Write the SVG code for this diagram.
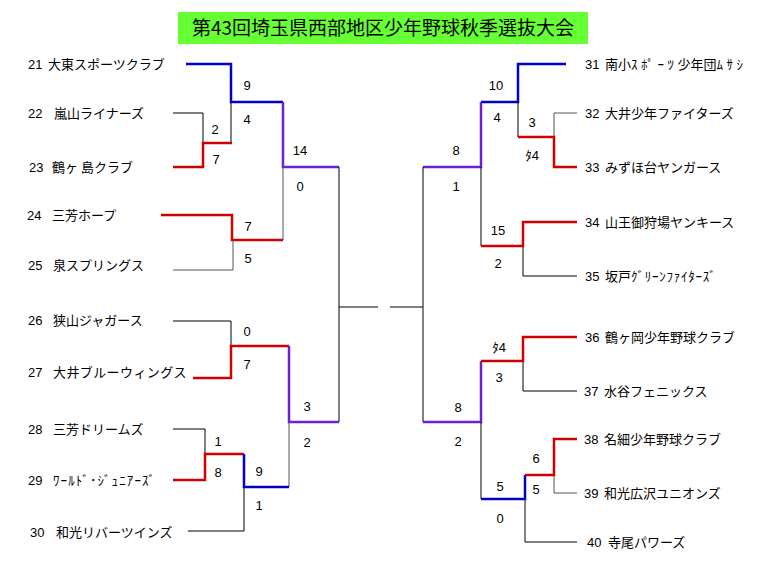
<svg xmlns="http://www.w3.org/2000/svg" width="768" height="576" viewBox="0 0 768 576">
<style>
.bg{fill:#ffffff}
.tl{font-family:"Noto Sans CJK JP","Noto Sans",sans-serif;font-size:19px;fill:#000;text-anchor:middle}
.num{font-family:"Liberation Sans",Arial,sans-serif;font-size:13px;fill:#000}
.nm{font-family:"Noto Sans CJK JP","Noto Sans",sans-serif;font-size:13px;fill:#000}
.sc{font-family:"Liberation Sans","Noto Sans CJK JP",sans-serif;font-size:13px;fill:#000;text-anchor:middle}
.k{fill:none;stroke:#000;stroke-width:1}
.g{fill:none;stroke:#555;stroke-width:1}
.b{fill:none;stroke:#0000c8;stroke-width:2.5}
.r{fill:none;stroke:#d00000;stroke-width:2.5}
.p{fill:none;stroke:#6a22d6;stroke-width:2.5}
</style>
<rect class="bg" x="0" y="0" width="768" height="576"/>
<g id="title">
<rect x="178" y="12" width="410" height="32" fill="#66ff33"/>
<text class="tl" x="383" y="35">第43回埼玉県西部地区少年野球秋季選抜大会</text>
</g>
<g id="connectors">
<polyline class="b" points="186,64 231,64 231,102 283,102"/>
<polyline class="p" points="283,102 283,167 339,167"/>
<polyline class="k" points="173,113 203,113 203,143"/>
<polyline class="k" points="231,143 231,102"/>
<polyline class="r" points="173,167 203,167 203,143 232,143"/>
<polyline class="g" points="283,240 283,167"/>
<polyline class="r" points="161,215 232,215 232,240 283,240"/>
<polyline class="g" points="173,270 233,270 233,240"/>
<polyline class="k" points="339,167 339,422"/>
<polyline class="k" points="339,307 378,307"/>
<polyline class="k" points="390,307 423,307"/>
<polyline class="k" points="173,321 231,321 231,346"/>
<polyline class="r" points="193,378 231,378 231,346 289,346"/>
<polyline class="p" points="289,346 289,422 339,422"/>
<polyline class="k" points="173,429 205,429 205,454"/>
<polyline class="r" points="173,480 205,480 205,454 244,454"/>
<polyline class="g" points="289,487 289,422"/>
<polyline class="b" points="244,454 244,487 289,487"/>
<polyline class="k" points="188,531 244,531 244,487"/>
<polyline class="b" points="566,64 518,64 518,102 481,102"/>
<polyline class="p" points="481,102 481,167 423,167"/>
<polyline class="k" points="518,102 518,137"/>
<polyline class="g" points="577,113 554,113 554,137"/>
<polyline class="r" points="518,137 554,137 554,167 577,167"/>
<polyline class="k" points="423,167 423,422"/>
<polyline class="k" points="481,167 481,246"/>
<polyline class="k" points="523,246 523,276 577,276"/>
<polyline class="r" points="481,246 523,246 523,222 577,222"/>
<polyline class="k" points="523,361 523,391 577,391"/>
<polyline class="p" points="423,422 481,422 481,361"/>
<polyline class="r" points="481,361 523,361 523,337 577,337"/>
<polyline class="k" points="481,422 481,499"/>
<polyline class="k" points="525,499 525,542 577,542"/>
<polyline class="g" points="554,475 554,493 577,493"/>
<polyline class="b" points="481,499 525,499 525,475"/>
<polyline class="r" points="525,475 554,475 554,439 577,439"/>
</g>
<g id="team21"><text y="69"><tspan class="num" x="28">21</tspan><tspan class="nm" x="48">大東スポーツクラブ</tspan></text></g>
<g id="team22"><text y="118"><tspan class="num" x="28">22</tspan><tspan class="nm" x="54">嵐山ライナーズ</tspan></text></g>
<g id="team23"><text y="172"><tspan class="num" x="29">23</tspan><tspan class="nm" x="52">鶴ヶ 島クラブ</tspan></text></g>
<g id="team24"><text y="220"><tspan class="num" x="27">24</tspan><tspan class="nm" x="52">三芳ホープ</tspan></text></g>
<g id="team25"><text y="270"><tspan class="num" x="28">25</tspan><tspan class="nm" x="53">泉スプリングス</tspan></text></g>
<g id="team26"><text y="325"><tspan class="num" x="28">26</tspan><tspan class="nm" x="53">狭山ジャガース</tspan></text></g>
<g id="team27"><text y="377"><tspan class="num" x="28">27</tspan><tspan class="nm" x="53" style="letter-spacing:0.4px">大井ブルーウィングス</tspan></text></g>
<g id="team28"><text y="434"><tspan class="num" x="28">28</tspan><tspan class="nm" x="53">三芳ドリームズ</tspan></text></g>
<g id="team29"><text y="485"><tspan class="num" x="28">29</tspan><tspan class="nm" x="53" style="letter-spacing:1.1px">ﾜｰﾙﾄﾞ･ｼﾞｭﾆｱｰｽﾞ</tspan></text></g>
<g id="team30"><text y="537"><tspan class="num" x="30">30</tspan><tspan class="nm" x="56">和光リバーツインズ</tspan></text></g>
<g id="team31"><text y="69"><tspan class="num" x="585">31</tspan><tspan class="nm" x="605">南小<tspan style="letter-spacing:3.5px">ｽﾎﾟｰﾂ</tspan>少年団<tspan style="letter-spacing:3.5px">ﾑｻｼ</tspan></tspan></text></g>
<g id="team32"><text y="118"><tspan class="num" x="585">32</tspan><tspan class="nm" x="605">大井少年ファイターズ</tspan></text></g>
<g id="team33"><text y="172"><tspan class="num" x="585">33</tspan><tspan class="nm" x="605">みずほ台ヤンガース</tspan></text></g>
<g id="team34"><text y="227"><tspan class="num" x="585">34</tspan><tspan class="nm" x="605">山王御狩場ヤンキース</tspan></text></g>
<g id="team35"><text y="281"><tspan class="num" x="585">35</tspan><tspan class="nm" x="605">坂戸<tspan style="letter-spacing:0.75px">ｸﾞﾘｰﾝﾌｧｲﾀｰｽﾞ</tspan></tspan></text></g>
<g id="team36"><text y="342"><tspan class="num" x="585">36</tspan><tspan class="nm" x="605">鶴ヶ岡少年野球クラブ</tspan></text></g>
<g id="team37"><text y="396"><tspan class="num" x="584">37</tspan><tspan class="nm" x="604">水谷フェニックス</tspan></text></g>
<g id="team38"><text y="444"><tspan class="num" x="584">38</tspan><tspan class="nm" x="604">名細少年野球クラブ</tspan></text></g>
<g id="team39"><text y="498"><tspan class="num" x="584">39</tspan><tspan class="nm" x="604">和光広沢ユニオンズ</tspan></text></g>
<g id="team40"><text y="547"><tspan class="num" x="587">40</tspan><tspan class="nm" x="608">寺尾パワーズ</tspan></text></g>
<g id="scores">
<text class="sc" x="247" y="90">9</text>
<text class="sc" x="247" y="124">4</text>
<text class="sc" x="215" y="134">2</text>
<text class="sc" x="216" y="164">7</text>
<text class="sc" x="300" y="155">14</text>
<text class="sc" x="300" y="191">0</text>
<text class="sc" x="248" y="231">7</text>
<text class="sc" x="248" y="263">5</text>
<text class="sc" x="247" y="336">0</text>
<text class="sc" x="247" y="369">7</text>
<text class="sc" x="307" y="411">3</text>
<text class="sc" x="307" y="447">2</text>
<text class="sc" x="218" y="446">1</text>
<text class="sc" x="218" y="477">8</text>
<text class="sc" x="259" y="476">9</text>
<text class="sc" x="259" y="510">1</text>
<text class="sc" x="496" y="90">10</text>
<text class="sc" x="497" y="122">4</text>
<text class="sc" x="532" y="127">3</text>
<text class="sc" x="532" y="160">ﾀ4</text>
<text class="sc" x="456" y="155">8</text>
<text class="sc" x="456" y="191">1</text>
<text class="sc" x="498" y="235">15</text>
<text class="sc" x="498" y="268">2</text>
<text class="sc" x="499" y="352">ﾀ4</text>
<text class="sc" x="499" y="382">3</text>
<text class="sc" x="458" y="412">8</text>
<text class="sc" x="458" y="446">2</text>
<text class="sc" x="536" y="463">6</text>
<text class="sc" x="536" y="494">5</text>
<text class="sc" x="500" y="491">5</text>
<text class="sc" x="500" y="523">0</text>
</g>
</svg>
